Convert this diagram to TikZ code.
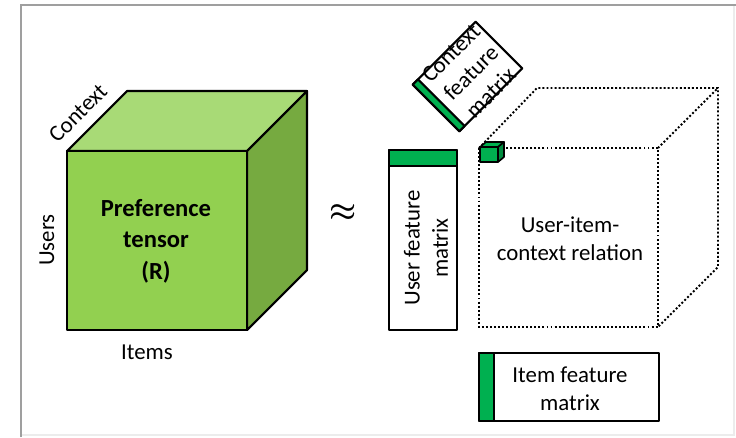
\documentclass[tikz,border=0pt]{standalone}
\usepackage{fontspec}
\setmainfont{Carlito}
\usepackage{amsmath, amssymb}
\usepackage{tikz}
\usetikzlibrary{positioning}

\definecolor{frontgreen}{RGB}{146,208,80}
\definecolor{topgreen}{RGB}{168,218,118}
\definecolor{sidegreen}{RGB}{118,170,64}
\definecolor{bandgreen}{RGB}{0,176,80}

\tikzset{
    edge/.style={line width=1.2pt, line join=round},
    hidden/.style={line width=1.1pt, dash pattern=on 1.1pt off 1.2pt},
    label/.style={font=\fontsize{13}{16}\selectfont, align=center},
}

\begin{document}
\begin{tikzpicture}[x=0.02cm, y=-0.02cm]
    \useasboundingbox (0,0) rectangle (736,437);
    % Frame
    \draw[gray!15, line width=1pt] (734,5) -- (734,435) -- (21,435);
    \draw[gray!75, line width=1.3pt] (21,437) -- (21,5) -- (736,5);

    % Preference tensor
    \draw[edge, fill=topgreen] (67,151) -- (127,91) -- (307,91) -- (247,151) -- cycle;
    \draw[edge, fill=sidegreen] (247,151) -- (307,91) -- (307,270) -- (247,330) -- cycle;
    \draw[edge, fill=frontgreen] (67,151) rectangle (247,330);
    \node[font=\fontsize{14}{18}\selectfont\bfseries, align=center] (tensor) at (156,241) {Preference\\tensor\\(R)};
    \node[label, rotate=45] (context) at (78,113) {Context};
    \node[label, rotate=90] (users) at (47,240) {Users};
    \node[label] (items) at (147,352) {Items};

    \node[font=\LARGE\boldmath] (approx) at (343,213) {$\approx$};

    % User feature matrix
    \draw[edge] (389,150) rectangle (457,330);
    \draw[edge, fill=bandgreen] (389,150) rectangle (457,166);
    \node[label, rotate=90] (user) at (426,248) {User feature\\matrix};

    % Context feature matrix
    \begin{scope}[shift={(467.5,76.5)}, rotate=45]
        \draw[edge, fill=white] (-44.5,-33) rectangle (44.5,33);
        \draw[edge, fill=bandgreen] (-44.5,-33) rectangle (-37,33);
    \end{scope}
    \node[label, rotate=45] (ctx) at (471,73) {Context\\feature\\matrix};

    % Item feature matrix
    \draw[edge] (479,353) rectangle (659,421);
    \draw[edge, fill=bandgreen] (479,353) rectangle (494,421);
    \node[label] (item) at (570,389) {Item feature\\matrix};

    % Relation cube
    \draw[hidden] (479,148) rectangle (658,327);
    \draw[hidden] (479,148) -- (537,88) -- (718,88) -- (718,267) -- (658,327);
    \draw[hidden] (658,148) -- (718,88);
    \draw[edge, fill=bandgreen, line width=0.9pt] (480,147) -- (486,142) -- (504,142) -- (498,147) -- cycle;
    \draw[edge, fill=bandgreen!80!black, line width=0.9pt] (498,147) -- (504,142) -- (504,157) -- (498,162) -- cycle;
    \draw[edge, fill=bandgreen, line width=0.9pt] (480,147) rectangle (498,162);
    \node[label] (relation) at (570,239) {User-item-\\context relation};
\end{tikzpicture}
\end{document}
